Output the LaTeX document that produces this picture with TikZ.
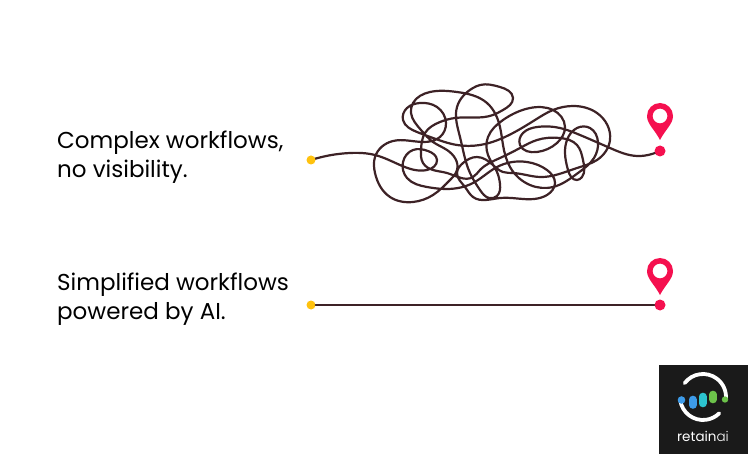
\documentclass[tikz,border=0pt]{standalone}
\usepackage{fontspec}
\usetikzlibrary{hobby}
\setmainfont{Poppins}
\newfontfamily\logofont{Poppins Light}
\definecolor{scribble}{HTML}{3D2226}
\definecolor{pinred}{HTML}{F5104F}
\definecolor{startdot}{HTML}{FFC20E}
\definecolor{logoblack}{HTML}{1A1A1A}
\definecolor{barblue}{HTML}{3D9BE9}
\definecolor{barteal}{HTML}{2CC4CF}
\definecolor{bargreen}{HTML}{6CC24A}
\tikzset{
  x=1pt,y=-1pt,
  pathline/.style={draw=scribble,line width=2.2pt,line cap=round,line join=round},
  startmark/.style={circle,fill=startdot,inner sep=0pt,minimum size=9pt},
  endmark/.style={circle,fill=pinred,inner sep=0pt,minimum size=11pt},
  caption/.style={anchor=west,align=left,inner sep=0pt,font=\fontsize{23}{29}\selectfont,text=black},
  logobar/.style={line width=7.6pt,line cap=round},
  logoarc/.style={draw=white,line width=3.8pt,line cap=round},
}
\newcommand{\mappin}[2]{%
  \fill[pinred,even odd rule] (#1-13,#2) arc[start angle=180,end angle=360,radius=13]
    .. controls (#1+13,#2+8) and (#1+5,#2+14) .. (#1,#2+24)
    .. controls (#1-5,#2+14) and (#1-13,#2+8) .. (#1-13,#2) -- cycle
    (#1,#2) circle[radius=7.4];
}
\begin{document}
\begin{tikzpicture}
\useasboundingbox (0,0) rectangle (750,457);
\fill[white] (0,0) rectangle (750,457);

\node[caption] (t1) at (57,157) {Complex workflows,\\no visibility.};
\node[caption] (t2) at (57,299) {Simplified workflows\\powered by AI.};

\coordinate (s1) at (311,160);
\coordinate (e1) at (660,151);
\draw[pathline,use Hobby shortcut] (s1) .. (350,153) .. (375,155) .. (400,165) .. (427,170) .. (437,160) .. (428,151) .. (413,150) .. (403,162) .. (407,178)
 .. (427,187) .. (447,189) .. (473,183) .. (497,167) .. (527,162) .. (547,170) .. (555,183) .. (547,195) .. (523,199) .. (500,198)
 .. (473,197) .. (465,187) .. (457,173) .. (463,163) .. (477,157) .. (493,165) .. (503,172) .. (513,173) .. (540,177) .. (577,168)
 .. (597,160) .. (610,140) .. (597,113) .. (573,106) .. (553,110) .. (535,120) .. (513,133) .. (480,145) .. (457,145) .. (433,138)
 .. (417,132) .. (403,120) .. (407,108) .. (420,103) .. (437,107) .. (446,123) .. (440,137) .. (423,142) .. (393,141) .. (375,157)
 .. (375,173) .. (390,197) .. (413,202) .. (433,195) .. (450,180) .. (457,170) .. (447,150) .. (433,142) .. (421,130) .. (411,113)
 .. (413,103) .. (430,92) .. (457,92) .. (487,103) .. (500,127) .. (503,145) .. (510,167) .. (530,185) .. (553,187) .. (578,173)
 .. (594,158) .. (598,142) .. (590,128) .. (577,128) .. (567,140) .. (565,153) .. (568,170) .. (577,180) .. (582,177) .. (583,160) .. (577,145) .. (560,138)
 .. (537,140) .. (520,148) .. (500,158) .. (480,170) .. (473,177) .. (447,173) .. (433,170) .. (423,163) .. (421,150) .. (425,133)
 .. (440,122) .. (455,118) .. (493,115) .. (503,110) .. (513,98) .. (500,87) .. (480,85) .. (473,88) .. (457,107) .. (460,137)
 .. (470,173) .. (480,190) .. (489,198) .. (497,196) .. (500,184) .. (497,172) .. (488,155) .. (488,137) .. (503,120) .. (530,108) .. (553,110)
 .. (565,127) .. (557,143) .. (537,152) .. (520,145) .. (523,133) .. (537,127) .. (560,128) .. (580,135) .. (610,148) .. (637,156)
 .. (652,154) .. (e1);
\node[startmark] (a1) at (s1) {};
\node[endmark] (b1) at (e1) {};
\mappin{660}{116}

\node[startmark] (a2) at (311,305) {};
\node[endmark] (b2) at (660,305) {};
\draw[pathline] (a2) -- (b2);
\mappin{660}{271}

\fill[logoblack] (659,365) rectangle (748,454);
\draw[logoarc] (703,397) ++(-143:23) arc[start angle=-143,end angle=5,radius=23];
\draw[logoarc] (703,397) ++(172:23) arc[start angle=172,end angle=45,radius=23];
\draw[logobar,barblue] (692.7,399.5) -- (692.7,405);
\draw[logobar,barteal] (702.7,396.5) -- (702.7,403.5);
\draw[logobar,bargreen] (713,394.5) -- (713,399.5);
\fill[barblue] (681.5,400) circle[radius=3.8];
\fill[bargreen] (725,399.5) circle[radius=3.2];
\node[inner sep=0pt,text=white,font=\fontsize{13.5}{16}\selectfont] (logo) at (703,436) {retain{\logofont ai}};
\end{tikzpicture}
\end{document}
